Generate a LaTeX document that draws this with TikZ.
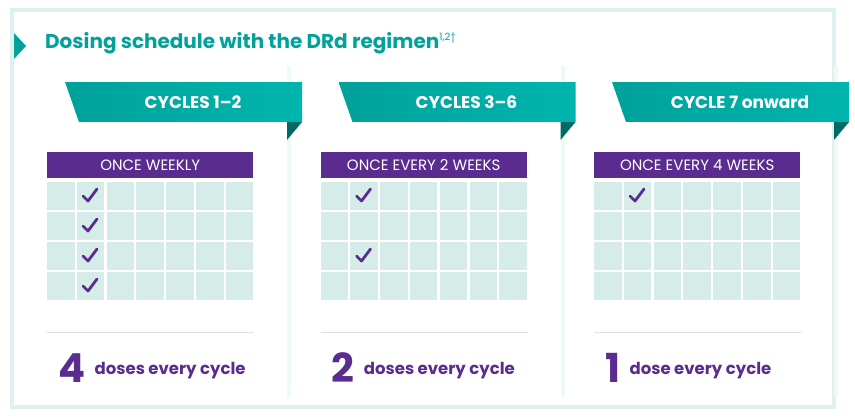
\documentclass[tikz,border=0pt]{standalone}
\usepackage{fontspec}
\setmainfont{Poppins}
\usetikzlibrary{positioning,calc}
\definecolor{teal1}{HTML}{00A29A}
\definecolor{teal2}{HTML}{00B5AD}
\definecolor{tealdark}{HTML}{006B66}
\definecolor{purp}{HTML}{5B2C8F}
\definecolor{cellc}{HTML}{D5ECE9}
\definecolor{panelc}{HTML}{DDF2F0}
\tikzset{
	cell/.style = {fill=cellc, draw=none},
	bandtext/.style = {text=white, font=\fontsize{17}{17}\selectfont\bfseries},
	headtext/.style = {fill=purp, text=white, minimum width=206pt, minimum height=26pt, inner sep=0pt, font=\fontsize{15}{15}\selectfont},
	tick/.style = {draw=purp, line width=2.8pt, line cap=round, line join=round},
	bignum/.style = {text=purp, font=\fontsize{40}{40}\selectfont\bfseries, inner sep=0pt},
	dosetext/.style = {text=purp, font=\fontsize{16.5}{16.5}\selectfont\bfseries, inner sep=0pt}
}
\begin{document}
\begin{tikzpicture}[x=1pt,y=-1pt]
    \useasboundingbox (0,0) rectangle (855,418);
    % outer panel
    \draw[draw=panelc, line width=4pt, fill=white] (12,10) rectangle (834,407);
    \fill[teal1] (14,33) -- (26,46) -- (14,59) -- cycle;
    \node[anchor=base west, text=teal1, font=\fontsize{20}{20}\selectfont\bfseries, inner sep=0pt] (title) at (45,48)
        {Dosing schedule with the DRd regimen\textsuperscript{\fontsize{10}{10}\selectfont\mdseries 1,2\textdagger}};

    % cards
    \foreach \k/\cyc/\freq/\num/\txt in {0/{CYCLES 1--2}/{ONCE WEEKLY}/4/{doses every cycle},
                                        1/{CYCLES 3--6}/{ONCE EVERY 2 WEEKS}/2/{doses every cycle},
                                        2/{CYCLE 7 onward}/{ONCE EVERY 4 WEEKS}/1/{dose every cycle}} {
        \pgfmathsetmacro{\gx}{47+273.5*\k}
        \fill[panelc!50] (\gx+240,66) rectangle (\gx+244,397);
        % banner
        \fill[tealdark] (\gx+240,122) -- (\gx+255,122) -- (\gx+240,140) -- cycle;
        \begin{scope}
            \clip (\gx+18,82) -- (\gx+255,82) -- (\gx+255,122) -- (\gx+32,122) -- cycle;
            \foreach \s in {0,...,23} {
                \pgfmathsetmacro{\mix}{100-\s*4.3}
                \fill[teal1!\mix!teal2] (\gx+18+\s*10,82) rectangle ++(10.5,40);
            }
        \end{scope}
        \node[bandtext] (band\k) at (\gx+146,102) {\cyc};
        % grid
        \node[headtext, anchor=north west] (freq\k) at (\gx,152) {\freq};
        \foreach \i in {0,...,6}
            \foreach \j in {0,...,3}
                \fill[cell] (\gx+\i*29.8,182+\j*30) rectangle ++(27.5,28);
        \draw[black!12, line width=0.8pt] (\gx,332) -- (\gx+207,332);
        \node[bignum, anchor=base west] (num\k) at (\gx+11,382) {\num};
        \node[dosetext, right=9pt of num\k.base east, anchor=base west, yshift=8pt] (dose\k) {\txt};
    }

    % checks
    \foreach \gx/\j in {47/0,47/1,47/2,47/3,320.5/0,320.5/2,594/0} {
        \draw[tick] (\gx+36,196+\j*30) -- (\gx+41,201+\j*30) -- (\gx+50,189+\j*30);
    }
\end{tikzpicture}
\end{document}
